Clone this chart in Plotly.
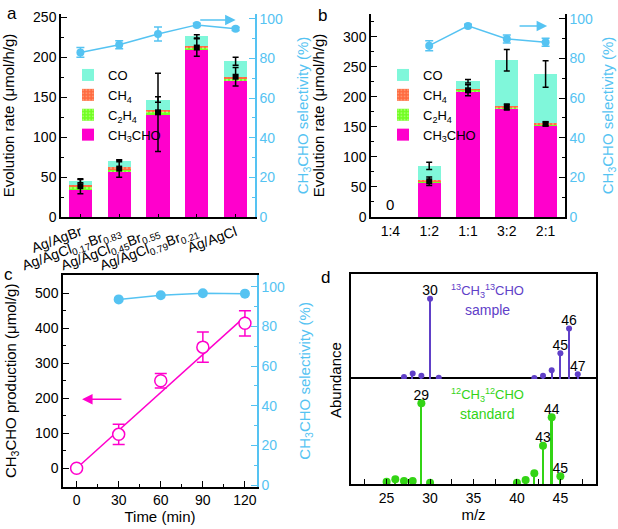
import numpy as np
import plotly.graph_objects as go

W, H = 618, 529

def px(x):
    return x / W

def py(y):
    return 1 - y / H

CYAN = '#55C3F2'
MAGENTA = '#FF00CC'
CO_COL = '#80F7DA'
CH4_COL = '#FF6A40'
C2H4_COL = '#70FF20'
PURPLE = '#6040C8'
GREEN = '#33D415'
FONT = 'Arial, Liberation Sans, sans-serif'

# ---- panel a: composition series
cat_a = ['Ag/AgBr', 'Ag/AgCl0.17Br0.83', 'Ag/AgCl0.45Br0.55', 'Ag/AgCl0.79Br0.21', 'Ag/AgCl']
ticktext_a = ['Ag/AgBr', 'Ag/AgCl<sub>0.17</sub>Br<sub>0.83</sub>', 'Ag/AgCl<sub>0.45</sub>Br<sub>0.55</sub>',
              'Ag/AgCl<sub>0.79</sub>Br<sub>0.21</sub>', 'Ag/AgCl']
ch3cho_a = [34, 56, 128, 209.5, 171]
c2h4_a = [3, 3, 3, 2, 2]
ch4_a = [3, 4, 3, 2, 2]
co_a = [5, 7, 13, 12.5, 20]
total_err_a = [2, 1, 3.5, 2, 5]
ch3cho_pt_a = [38.5, 60.6, 131, 212, 175.5]
ch3cho_err_a = [9.5, 11, 49, 11, 11.5]
sel_a = [83.1, 87, 92.4, 97, 95]
sel_err_a = [2.5, 2, 3.5, 0.8, 0.8]

# ---- panel b: Cl/Br ratio series
cat_b = ['1:4', '1:2', '1:1', '3:2', '2:1']
ch3cho_b = [0, 57, 209, 181, 152]
c2h4_b = [0, 2, 2.5, 2, 2]
ch4_b = [0, 2, 1.5, 2, 2]
co_b = [0, 24, 13, 76, 82]
total_err_b = [0, 6, 3, 18, 22]
ch3cho_pt_b = [0, 59.5, 211, 183, 155]
ch3cho_err_b = [0, 7, 9, 5, 3]
sel_b = [0, 86.5, 96.5, 89.9, 88.2]
sel_err_b = [0, 2.5, 0.8, 2, 2]

# ---- panel c: time course
time_c = [0, 30, 60, 90, 120]
prod_c = [0, 97, 250, 346, 414]
prod_err_c = [None, 29, 21, 43, 36]
fit_time_c = [0, 120]
fit_prod_c = [0, 433]
sel_time_c = [30, 60, 90, 120]
sel_c = [93.6, 95.7, 96.7, 96.5]

# ---- panel d: mass spectra
mz_sample = [27, 28, 29, 30, 31, 42, 43, 44, 45, 46, 47]
ab_sample = [2.5, 7, 4, 100, 1.7, 1.2, 4, 11, 32, 63, 6]
mz_std = [25, 26, 27, 28, 29, 30, 40, 41, 42, 43, 44, 45]
ab_std = [2.9, 5.8, 3.7, 3.7, 100, 1.7, 1.7, 5, 13.2, 47.5, 82.6, 9.5]
labeled_sample = [30, 45, 46, 47]
labeled_std = [29, 43, 44, 45]

fig = go.Figure()

def add_stack(xax, yax, yax_r, cats, ch3cho, c2h4, ch4, co, tot_err, pt, pt_err, sel, sel_err, legend, skip_first):
    series = [('CH<sub>3</sub>CHO', ch3cho, MAGENTA, None),
              ('C<sub>2</sub>H<sub>4</sub>', c2h4, C2H4_COL, '#D8FFB0'),
              ('CH<sub>4</sub>', ch4, CH4_COL, '#FFC0A0'),
              ('CO', co, CO_COL, None)]
    for name, vals, col, dots in series:
        marker = dict(color=col, line=dict(width=0))
        if dots:
            marker['pattern'] = dict(shape='.', fgcolor=dots, size=4, solidity=0.3)
        fig.add_trace(go.Bar(x=cats, y=vals, name=name, marker=marker, width=0.6,
                             xaxis=xax, yaxis=yax, legend=legend))
    totals = np.sum([ch3cho, c2h4, ch4, co], axis=0)
    s = 1 if skip_first else 0
    fig.add_trace(go.Scatter(x=cats[s:], y=totals[s:], mode='markers', marker=dict(size=1, color='rgba(0,0,0,0)'),
                             error_y=dict(type='data', array=tot_err[s:], color='black', thickness=1.5, width=3),
                             xaxis=xax, yaxis=yax, showlegend=False))
    fig.add_trace(go.Scatter(x=cats[s:], y=pt[s:], mode='markers', marker=dict(size=6, symbol='square', color='black'),
                             error_y=dict(type='data', array=pt_err[s:], color='black', thickness=1.5, width=3),
                             xaxis=xax, yaxis=yax, showlegend=False))
    fig.add_trace(go.Scatter(x=cats[s:], y=sel[s:], mode='lines+markers', line=dict(color=CYAN, width=1.5),
                             marker=dict(size=8, color=CYAN),
                             error_y=dict(type='data', array=sel_err[s:], color=CYAN, thickness=1.5, width=4),
                             xaxis=xax, yaxis=yax_r, showlegend=False))

add_stack('x', 'y', 'y2', cat_a, ch3cho_a, c2h4_a, ch4_a, co_a, total_err_a, ch3cho_pt_a, ch3cho_err_a,
          sel_a, sel_err_a, 'legend', False)
add_stack('x2', 'y3', 'y4', cat_b, ch3cho_b, c2h4_b, ch4_b, co_b, total_err_b, ch3cho_pt_b, ch3cho_err_b,
          sel_b, sel_err_b, 'legend2', True)

# panel c
fig.add_trace(go.Scatter(x=fit_time_c, y=fit_prod_c, mode='lines', line=dict(color=MAGENTA, width=1.5),
                         xaxis='x3', yaxis='y5', showlegend=False))
fig.add_trace(go.Scatter(x=time_c, y=prod_c, mode='markers',
                         marker=dict(size=12, color='white', line=dict(color=MAGENTA, width=1.5)),
                         error_y=dict(type='data', array=prod_err_c, color=MAGENTA, thickness=1.5, width=6),
                         xaxis='x3', yaxis='y5', showlegend=False, cliponaxis=False))
fig.add_trace(go.Scatter(x=sel_time_c, y=sel_c, mode='lines+markers', line=dict(color=CYAN, width=1.5),
                         marker=dict(size=10, color=CYAN), xaxis='x3', yaxis='y6', showlegend=False))

# panel d
for mz, ab, col, labels, xax, yax, bw, ms in [
        (mz_sample, ab_sample, PURPLE, labeled_sample, 'x5', 'y8', 0.16, 6),
        (mz_std, ab_std, GREEN, labeled_std, 'x4', 'y7', 0.22, 8)]:
    fig.add_trace(go.Bar(x=mz, y=ab, width=bw, marker=dict(color=col, line=dict(width=0)),
                         xaxis=xax, yaxis=yax, showlegend=False))
    fig.add_trace(go.Scatter(x=mz, y=ab, mode='markers', marker=dict(size=ms, color=col),
                             xaxis=xax, yaxis=yax, showlegend=False))
    lab_x = [m for m in mz if m in labels]
    lab_y = [a for m, a in zip(mz, ab) if m in labels]
    fig.add_trace(go.Scatter(x=lab_x, y=lab_y, mode='text', text=[str(m) for m in lab_x],
                             textposition='top center', textfont=dict(size=14, color='black'),
                             xaxis=xax, yaxis=yax, showlegend=False, cliponaxis=False))

ax_common = dict(showgrid=False, zeroline=False, showline=True, linecolor='black', linewidth=1.5,
                 tickcolor='black', tickfont=dict(size=14, color='black'), automargin=False)
title_font = dict(size=15, color='black')
cyan_ax = dict(showgrid=False, zeroline=False, showline=True, linecolor=CYAN, linewidth=1.5, automargin=False,
               tickcolor=CYAN, tickfont=dict(size=14, color=CYAN), ticks='inside', ticklen=6, dtick=20,
               minor=dict(dtick=10, ticks='inside', ticklen=3, tickcolor=CYAN),
               title=dict(text='CH<sub>3</sub>CHO selectivity (%)', font=dict(size=15, color=CYAN)))

dom_a_y = [py(217), py(14)]
dom_c_y = [py(486.7), py(275)]

fig.update_layout(
    width=W, height=H, margin=dict(l=0, r=0, t=0, b=0, autoexpand=False),
    plot_bgcolor='white', paper_bgcolor='white',
    font=dict(family=FONT, size=14, color='black'),
    barmode='stack',
    xaxis=dict(**ax_common, domain=[px(61), px(255)], anchor='y', type='category', range=[-0.5, 4.5],
               tickvals=cat_a, ticktext=ticktext_a, tickangle=-20, ticks='inside', ticklen=3),
    yaxis=dict(**ax_common, domain=dom_a_y, anchor='x', range=[0, 254], dtick=50, ticks='inside', ticklen=6,
               minor=dict(dtick=25, ticks='inside', ticklen=3),
               title=dict(text='Evolution rate (μmol/h/g)', font=title_font)),
    yaxis2=dict(**cyan_ax, overlaying='y', side='right', anchor='x', range=[0, 102.5]),
    xaxis2=dict(**ax_common, domain=[px(371), px(565)], anchor='y3', type='category', range=[-0.5, 4.5],
                ticks=''),
    yaxis3=dict(**ax_common, domain=dom_a_y, anchor='x2', range=[0, 338], dtick=50, ticks='inside', ticklen=6,
                minor=dict(dtick=25, ticks='inside', ticklen=3),
                title=dict(text='Evolution rate (μmol/h/g)', font=title_font)),
    yaxis4=dict(**{**cyan_ax, 'linecolor': 'black', 'tickcolor': 'black',
                   'minor': dict(dtick=10, ticks='inside', ticklen=3, tickcolor='black')},
                overlaying='y3', side='right', anchor='x2', range=[0, 102.5]),
    xaxis3=dict(**ax_common, domain=[px(63), px(257)], anchor='y5', range=[-9.7, 128.6], tick0=0, dtick=30,
                ticks='inside', ticklen=6, minor=dict(dtick=15, ticks='inside', ticklen=3), mirror=True,
                title=dict(text='Time (min)', font=title_font, standoff=4)),
    yaxis5=dict(**ax_common, domain=dom_c_y, anchor='x3', range=[-52.5, 552], dtick=100, ticks='inside',
                ticklen=6, minor=dict(dtick=50, ticks='inside', ticklen=3),
                title=dict(text='CH<sub>3</sub>CHO production (μmol/g)', font=title_font)),
    yaxis6=dict(**cyan_ax, overlaying='y5', side='right', anchor='x3', range=[-0.85, 105.9]),
    xaxis4=dict(**ax_common, domain=[px(351), px(596)], anchor='y7', range=[20.9, 49.1], tick0=0, dtick=5,
                ticks='inside', ticklen=5, minor=dict(dtick=2.5, ticks='inside', ticklen=5), mirror=True,
                title=dict(text='m/z', font=title_font, standoff=4)),
    yaxis7=dict(**ax_common, domain=[py(484), py(379)], anchor='x4', range=[0, 130], showticklabels=False,
                ticks='', mirror=True),
    xaxis5=dict(**ax_common, domain=[px(351), px(596)], anchor='y8', matches='x4', showticklabels=False,
                ticks='', side='top'),
    yaxis8=dict(**ax_common, domain=[py(379), py(274)], anchor='x5', range=[0, 131], showticklabels=False,
                ticks='', mirror=True),
    legend=dict(x=px(68), y=py(60), xanchor='left', yanchor='top', bgcolor='rgba(0,0,0,0)',
                font=dict(size=13), traceorder='reversed', tracegroupgap=0),
    legend2=dict(x=px(383), y=py(60), xanchor='left', yanchor='top', bgcolor='rgba(0,0,0,0)',
                 font=dict(size=13), traceorder='reversed', tracegroupgap=0),
)

# arrows pointing to the selectivity axes
arrow = dict(showarrow=True, text='', arrowhead=2, arrowsize=1.4, arrowwidth=1.5)
fig.add_annotation(x=4.0, y=99.5, ax=3.05, ay=99.5, xref='x', yref='y2', axref='x', ayref='y2',
                   arrowcolor=CYAN, **arrow)
fig.add_annotation(x=4.04, y=96.5, ax=3.29, ay=96.5, xref='x2', yref='y4', axref='x2', ayref='y4',
                   arrowcolor=CYAN, **arrow)
fig.add_annotation(x=3.9, y=197, ax=33, ay=197, xref='x3', yref='y5', axref='x3', ayref='y5',
                   arrowcolor=MAGENTA, **arrow)

fig.add_annotation(x=0, y=20, xref='x2', yref='y3', text='0', showarrow=False, font=dict(size=15))

# panel d labels, placed in pixels of the page
def label(x, y, text, size, color='black', angle=0):
    fig.add_annotation(x=px(x), y=py(y), xref='paper', yref='paper', xanchor='center', yanchor='middle',
                       showarrow=False, text=text, textangle=angle, font=dict(size=size, color=color))

label(488, 291, '<sup>13</sup>CH<sub>3</sub><sup>13</sup>CHO', 13, PURPLE)
label(487, 310, 'sample', 14, PURPLE)
label(487, 395, '<sup>12</sup>CH<sub>3</sub><sup>12</sup>CHO', 13, GREEN)
label(487, 414, 'standard', 14, GREEN)
label(335, 380, 'Abundance', 15, angle=-90)

for lab, x, y in [('a', 12, 13), ('b', 322, 15), ('c', 8, 274), ('d', 325, 277)]:
    label(x, y, lab, 17)

fig.write_html('out.html', config={'displayModeBar': False},
               post_script="document.body.style.margin='0px';")
